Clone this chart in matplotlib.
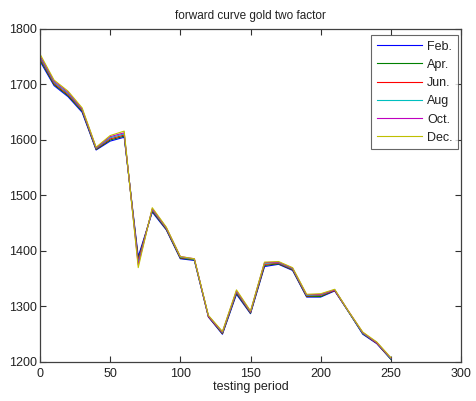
import matplotlib
matplotlib.use("Agg")
import matplotlib.pyplot as plt

plt.rcParams['font.family'] = ['Liberation Sans', 'DejaVu Sans']

x = [0, 10, 20, 30, 40, 50, 60, 70, 80, 90, 100, 110, 120, 130, 140, 150,
     160, 170, 180, 190, 200, 210, 220, 230, 240, 250]

feb = [1742, 1698, 1678, 1650, 1582, 1598, 1605, 1390, 1470, 1438, 1386, 1383, 1281,
       1250, 1322, 1287, 1372, 1376, 1365, 1317, 1317, 1328, 1290, 1250, 1233, 1205]
apr = [1745, 1700, 1680, 1652, 1583, 1600, 1607, 1385, 1472, 1439, 1387, 1384, 1282,
       1251, 1324, 1288, 1374, 1377, 1366, 1318, 1318, 1329, 1290, 1251, 1234, 1205]
jun = [1748, 1702, 1682, 1654, 1584, 1602, 1609, 1382, 1474, 1440, 1388, 1385, 1282,
       1252, 1326, 1289, 1376, 1378, 1367, 1319, 1320, 1329, 1290, 1252, 1234, 1206]
aug = [1750, 1704, 1684, 1655, 1585, 1604, 1611, 1378, 1475, 1441, 1389, 1385, 1283,
       1253, 1327, 1290, 1378, 1379, 1368, 1320, 1321, 1330, 1290, 1252, 1235, 1206]
octo = [1752, 1706, 1686, 1656, 1586, 1606, 1613, 1375, 1476, 1442, 1390, 1386, 1283,
        1254, 1328, 1291, 1379, 1380, 1369, 1321, 1322, 1330, 1291, 1253, 1235, 1207]
dec = [1755, 1708, 1688, 1658, 1587, 1608, 1616, 1370, 1478, 1443, 1390, 1386, 1284,
       1255, 1330, 1292, 1380, 1381, 1370, 1322, 1323, 1331, 1291, 1254, 1236, 1208]

labels = ['Feb.', 'Apr.', 'Jun.', 'Aug', 'Oct.', 'Dec.']
series = [feb, apr, jun, aug, octo, dec]
colors = ['#0000ff', '#008000', '#ff0000', '#00bfbf', '#bf00bf', '#bfbf00']

fig = plt.figure(figsize=(4.76, 4.01), dpi=100)
fig.patch.set_facecolor('white')
ax = fig.add_axes([40/476, 1-362/401, (461-40)/476, (362-29)/401])

for s, lab, c in zip(series, labels, colors):
    ax.plot(x, s, color=c, lw=0.8, label=lab)

ax.set_xlim(0, 300)
ax.set_ylim(1200, 1800)
ax.set_xticks(range(0, 301, 50))
ax.set_yticks(range(1200, 1801, 100))
ax.tick_params(direction='in', top=True, right=True, labelsize=9, length=4,
               width=0.8, color='#303030', labelcolor='#222222', pad=2)
ax.tick_params(axis='x', pad=4)
for sp in ax.spines.values():
    sp.set_linewidth(0.9)
    sp.set_color('#404040')
ax.set_title('forward curve gold two factor', fontsize=8.5, pad=7, color='#222222')
ax.set_xlabel('testing period', fontsize=9, labelpad=1, color='#222222')

leg = ax.legend(loc='upper right', bbox_to_anchor=(0.993, 0.982), fontsize=9,
                frameon=True, fancybox=False, edgecolor='#404040',
                handlelength=3.6, labelspacing=0.5, borderaxespad=0.0,
                handletextpad=0.4, borderpad=0.45)
leg.get_frame().set_linewidth(0.8)
for t in leg.get_texts():
    t.set_color('#222222')

fig.savefig('out.png', dpi=100, facecolor='white')
